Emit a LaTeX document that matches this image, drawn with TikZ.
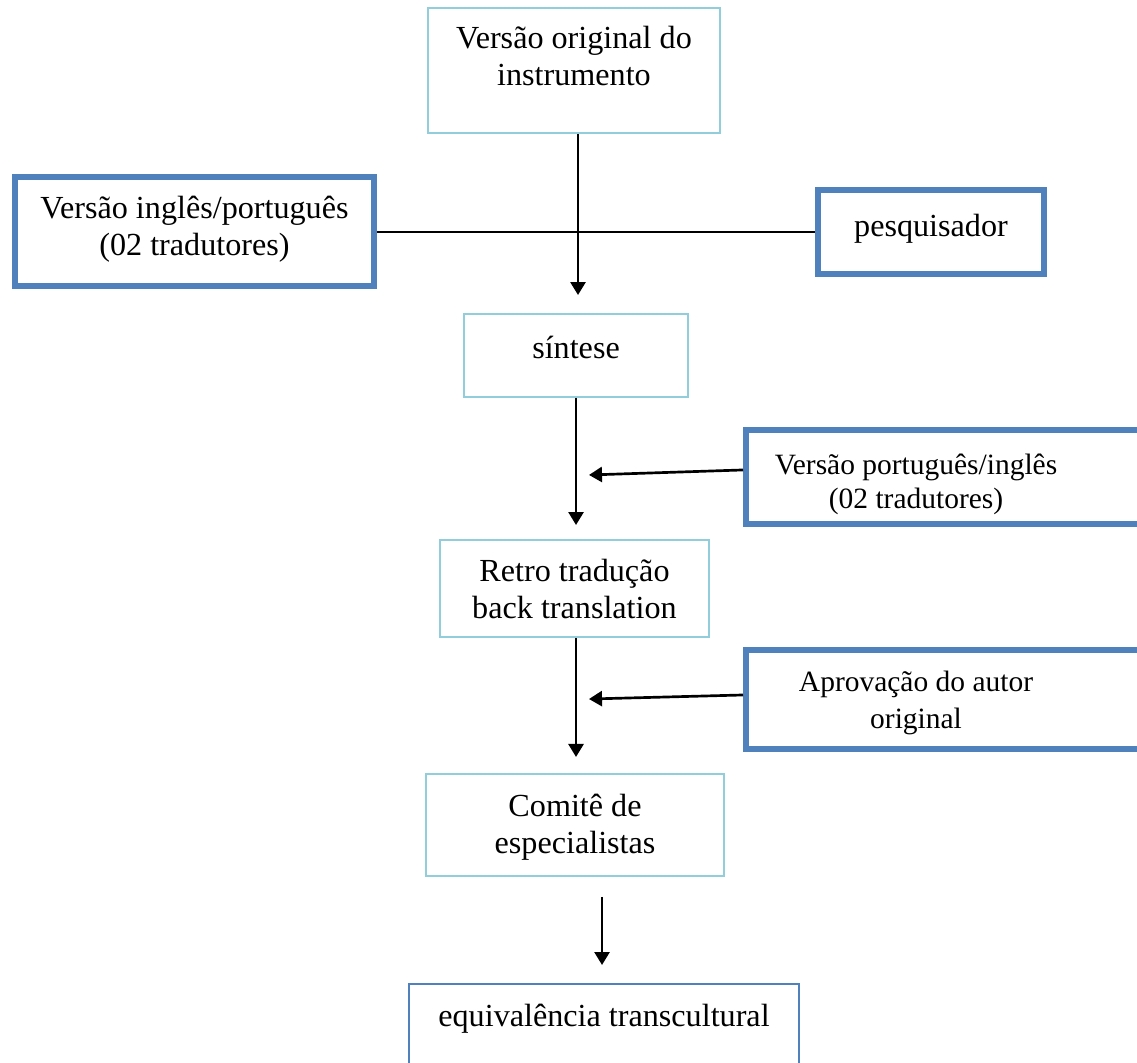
\documentclass[tikz,border=0pt]{standalone}
\usepackage{fontspec}
\setmainfont{Liberation Serif}
\usepackage{tikz}
\usetikzlibrary{arrows.meta}

\definecolor{boxcyan}{HTML}{92CDDC}
\definecolor{boxblue}{HTML}{4F81BD}

\begin{document}
\begin{tikzpicture}[
    box/.style={rectangle, draw, inner sep=0pt, align=center, font=\fontsize{12}{13.8}\selectfont},
    stage/.style={box, draw=boxcyan, line width=0.75pt},
    source/.style={box, draw=boxblue, line width=2.25pt},
    result/.style={box, draw=boxblue, line width=0.9pt},
    arrow/.style={-{Triangle[length=4.85pt, width=5.6pt]}, line width=1pt},
    link/.style={line width=0.7pt},
  ]
    \useasboundingbox (0,0) rectangle (14.911,-13.940);
    \clip (0,0) rectangle (14.911,-13.940);

    % main chain
    \node[stage, minimum width=3.829cm, minimum height=1.639cm, text height=10.8pt, text depth=0pt] (orig) at (7.527,-0.925) {Versão original do\\instrumento};
    \node[stage, minimum width=2.938cm, minimum height=1.088cm, text height=1.88pt, text depth=0pt] (sint) at (7.554,-4.662) {síntese};
    \node[stage, minimum width=3.528cm, minimum height=1.272cm, text height=22.7pt, text depth=0pt] (retro) at (7.534,-7.718) {Retro tradução\\back translation};
    \node[stage, minimum width=3.908cm, minimum height=1.338cm, text height=21.25pt, text depth=0pt] (comite) at (7.541,-10.819) {Comitê de\\especialistas};
    \node[result, minimum width=5.114cm, minimum height=1.088cm, text height=1.1pt, text depth=0pt] (equiv) at (7.921,-13.448) {equivalência transcultural};

    % side boxes
    \node[source, minimum width=4.708cm, minimum height=1.429cm, text height=17.9pt, text depth=0pt] (ingpt) at (2.551,-3.042) {Versão inglês/português\\(02 tradutores)};
    \node[source, minimum width=2.964cm, minimum height=1.102cm, text height=3.7pt, text depth=0pt] (pesq) at (12.209,-3.042) {pesquisador};
    \node[source, font=\fontsize{11}{12.65}\selectfont, minimum width=5.429cm, minimum height=1.233cm, text height=23.8pt, text depth=0pt] (portin) at (12.498,-6.255) {Versão português/inglês\hspace*{27.6pt}\\(02 tradutores)\hspace*{27.6pt}};
    \node[source, font=\fontsize{11}{13.8}\selectfont, minimum width=5.429cm, minimum height=1.298cm, text height=22pt, text depth=0pt] (aprov) at (12.498,-9.173) {Aprovação do autor\hspace*{27.6pt}\\original\hspace*{27.6pt}};

    % free arrow ends
    \coordinate (a1) at (7.580,-3.869);
    \coordinate (a2) at (7.554,-6.885);
    \coordinate (a3) at (7.554,-9.927);
    \coordinate (b1) at (7.724,-6.229);
    \coordinate (b2) at (7.724,-9.167);
    \coordinate (c1) at (7.895,-11.763);
    \coordinate (c2) at (7.895,-12.655);

    \draw[arrow] (orig.south -| a1) -- (a1);
    \draw[link] (ingpt) -- (pesq);
    \draw[arrow] (sint.south -| a2) -- (a2);
    \draw[arrow] ([yshift=0.092cm]portin.west) -- (b1);
    \draw[arrow] (retro.south -| a3) -- (a3);
    \draw[arrow] ([yshift=0.059cm]aprov.west) -- (b2);
    \draw[arrow] (c1) -- (c2);
  \end{tikzpicture}
\end{document}
